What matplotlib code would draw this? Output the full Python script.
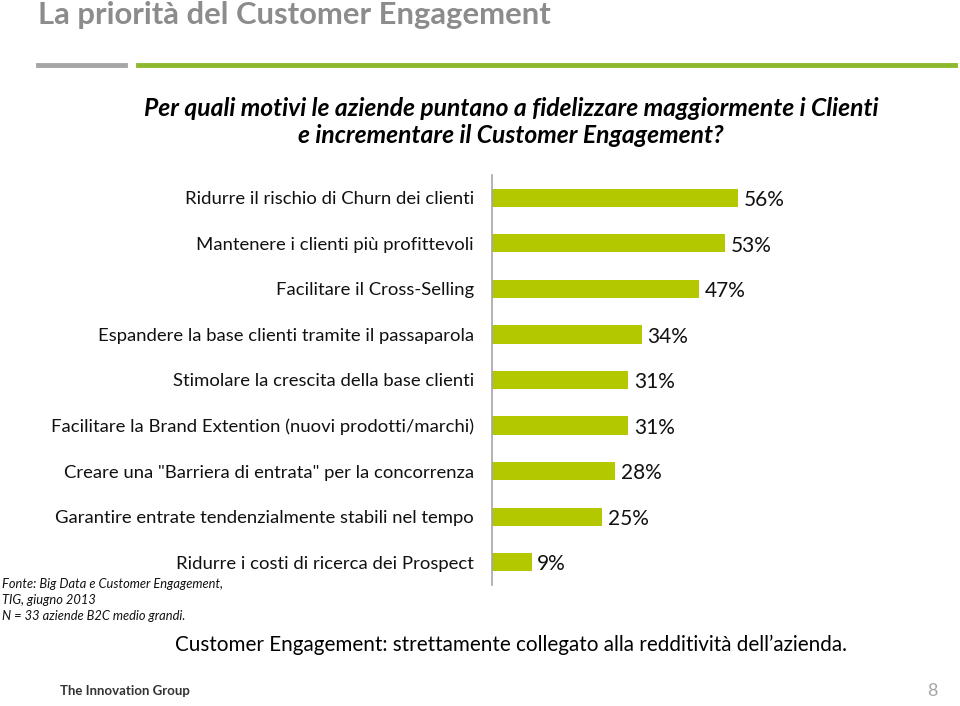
import matplotlib
matplotlib.use("Agg")
import matplotlib.pyplot as plt
from matplotlib.lines import Line2D

plt.rcParams['font.family'] = ['Lato', 'DejaVu Sans']

categories = [
    "Ridurre il rischio di Churn dei clienti",
    "Mantenere i clienti più profittevoli",
    "Facilitare il Cross-Selling",
    "Espandere la base clienti tramite il passaparola",
    "Stimolare la crescita della base clienti",
    "Facilitare la Brand Extention (nuovi prodotti/marchi)",
    "Creare una \"Barriera di entrata\" per la concorrenza",
    "Garantire entrate tendenzialmente stabili nel tempo",
    "Ridurre i costi di ricerca dei Prospect",
]
values = [56, 53, 47, 34, 31, 31, 28, 25, 9]

title = "La priorità del Customer Engagement"
question = ("Per quali motivi le aziende puntano a fidelizzare maggiormente i Clienti\n"
            "e incrementare il Customer Engagement?")
conclusion = "Customer Engagement: strettamente collegato alla redditività dell\u2019azienda."
source = "Fonte: Big Data e Customer Engagement,\nTIG, giugno 2013\nN = 33 aziende B2C medio grandi."

W, H = 960, 706
fig = plt.figure(figsize=(W / 100, H / 100), dpi=100)

# axes placement in pixel coords
ax_left, ax_right = 492, 756
ax_top, ax_bottom = 175, 585
ax = fig.add_axes([ax_left / W, 1 - ax_bottom / H, (ax_right - ax_left) / W, (ax_bottom - ax_top) / H])

bar_color = "#B4C800"
y = list(range(len(categories)))
ax.barh(y, values, height=0.4, color=bar_color)
ax.set_xlim(0, 60)
ax.set_ylim(len(categories) - 0.5, -0.5)
for yi, v in zip(y, values):
    ax.text(v + 1.3, yi + 0.05, f"{v}%", va="center", ha="left", fontsize=15, color="#111111", clip_on=False)

ax.set_yticks(y)
ax.set_yticklabels(categories, fontsize=13.3, color="#111111")
ax.tick_params(axis="y", length=0, pad=13)
ax.set_xticks([])
for s in ["top", "right", "bottom"]:
    ax.spines[s].set_visible(False)
ax.spines["left"].set_color("#A6A6A6")
ax.spines["left"].set_linewidth(1.2)

# Title
fig.text(38 / W, 1 - 15 / H, title, fontsize=22.3, fontweight="bold", color="#8C8C8C", va="center", ha="left")
# Decorative lines
fig.add_artist(Line2D([38 / W, 125 / W], [1 - 65 / H] * 2, color="#A6A6A6", linewidth=3.5))
fig.add_artist(Line2D([138 / W, 955 / W], [1 - 65 / H] * 2, color="#8DB92E", linewidth=3.5))

# Question
fig.text(511 / W, 1 - 122 / H, question, fontsize=17.7, fontweight="bold", fontstyle="italic",
         color="#000000", ha="center", va="center", linespacing=1.22)

# Source
fig.text(2 / W, 1 - 600 / H, source, fontsize=9.3, fontstyle="italic", color="#111111",
         ha="left", va="center", linespacing=1.42)

# Conclusion
fig.text(511 / W, 1 - 645 / H, conclusion, fontsize=14.9, color="#000000", ha="center", va="center")

# Footer
fig.text(60 / W, 1 - 691 / H, "The Innovation Group", fontsize=9.5, fontweight="bold",
         color="#333333", ha="left", va="center")
fig.text(932 / W, 1 - 691 / H, "8", fontsize=13, color="#A6A6A6", ha="center", va="center")

fig.savefig("out.png", dpi=100)
